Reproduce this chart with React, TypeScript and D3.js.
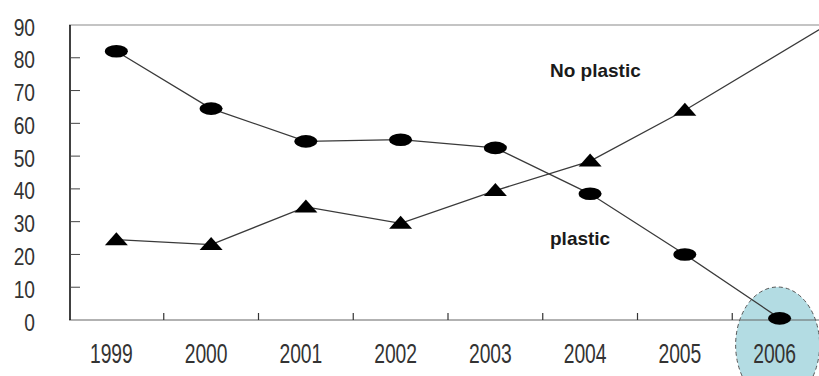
import React from "react";
import * as d3 from "d3";

// Share of bags, 1999–2006
const years = ["1999", "2000", "2001", "2002", "2003", "2004", "2005", "2006"];
const noPlastic = [82, 64.5, 54.5, 55, 52.5, 38.5, 20, 0.5];
// plastic: the 2006 entry is off the top of the scale; the line runs on to the top-right corner
const plastic: (number | null)[] = [24.5, 23, 34.5, 29.5, 39.5, 48.5, 64, null];
const yTicks = [0, 10, 20, 30, 40, 50, 60, 70, 80, 90];
const highlightYear = "2006";

const W = 819;
const H = 376;

export default function App() {
  const x = d3.scaleBand<string>().domain(years).range([69, 827]).padding(0);
  const y = d3.scaleLinear().domain([0, 90]).range([320, 25]);
  const cx = (yr: string) => (x(yr) ?? 0) + x.bandwidth() / 2;

  const [x0, x1] = x.range();
  const [yBottom, yTop] = y.range();

  const line = d3
    .line<[number, number]>()
    .x((d) => d[0])
    .y((d) => d[1]);

  const noPlasticPts: [number, number][] = years.map((yr, i) => [cx(yr), y(noPlastic[i])]);
  const plasticPts: [number, number][] = years
    .map((yr, i) => (plastic[i] == null ? null : ([cx(yr), y(plastic[i] as number)] as [number, number])))
    .filter((p): p is [number, number] => p !== null);
  const plasticLine: [number, number][] = [...plasticPts, [x1, y(90)]];

  const boundaries = years.slice(1).map((yr) => x(yr) ?? 0);
  const hx = cx(highlightYear) - 2;

  return (
    <svg
      width={W}
      height={H}
      style={{ position: "absolute", left: 0, top: 0, background: "#fff" }}
      fontFamily="'Liberation Sans', Arial, sans-serif"
    >
      <rect width={W} height={H} fill="#fff" />

      {/* highlight round the last year */}
      <ellipse
        cx={hx}
        cy={345}
        rx={42}
        ry={58}
        fill="#b3dce3"
        stroke="#555"
        strokeWidth={1}
        strokeDasharray="4,3"
      />

      {/* frame */}
      <line x1={x0} x2={x1} y1={yTop} y2={yTop} stroke="#8a8a8a" strokeWidth={1.2} />
      <line x1={x0} x2={x1} y1={yBottom} y2={yBottom} stroke="#666" strokeWidth={1.2} />
      <line x1={x0 + 1} x2={x0 + 1} y1={yTop} y2={yBottom} stroke="#111" strokeWidth={1.6} />

      {/* y ticks and labels */}
      {yTicks.map((t) => (
        <g key={t}>
          {t > 0 && t < 90 && (
            <line x1={x0 + 1} x2={x0 + 11} y1={y(t)} y2={y(t)} stroke="#444" strokeWidth={1} />
          )}
          <text
            transform={`translate(35,${y(t) + 10.5}) scale(0.8,1)`}
            textAnchor="end"
            fontSize={24}
            fill="#333"
          >
            {t}
          </text>
        </g>
      ))}

      {/* x ticks between categories */}
      {boundaries.map((b, i) => (
        <line key={i} x1={b} x2={b} y1={yBottom} y2={yBottom - 7} stroke="#333" strokeWidth={1.2} />
      ))}

      {/* x labels */}
      {years.map((yr) => (
        <text
          key={yr}
          transform={`translate(${cx(yr) - 5},363) scale(0.69,1)`}
          textAnchor="middle"
          fontSize={28}
          fill="#333"
        >
          {yr}
        </text>
      ))}

      {/* series lines */}
      <path d={line(noPlasticPts) ?? ""} fill="none" stroke="#3a3a3a" strokeWidth={1.3} />
      <path d={line(plasticLine) ?? ""} fill="none" stroke="#3a3a3a" strokeWidth={1.3} />

      {/* markers */}
      {noPlasticPts.map(([px, py], i) => (
        <ellipse key={"c" + i} cx={px} cy={py} rx={11.5} ry={6.3} fill="#000" />
      ))}
      {plasticPts.map(([px, py], i) => (
        <path
          key={"t" + i}
          d={`M${px},${py - 7.5} L${px + 11.5},${py + 5.5} L${px - 11.5},${py + 5.5} Z`}
          fill="#000"
        />
      ))}

      {/* series names */}
      <text x={550} y={77} fontSize={19} fontWeight="bold" fill="#1a1a1a">
        No plastic
      </text>
      <text x={550} y={245} fontSize={19} fontWeight="bold" fill="#1a1a1a">
        plastic
      </text>
    </svg>
  );
}
